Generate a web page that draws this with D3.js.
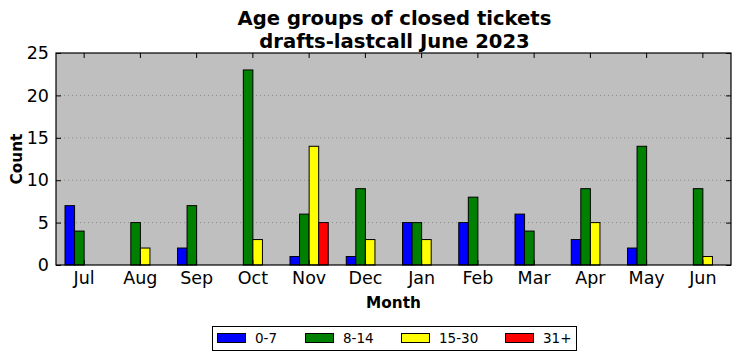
<!DOCTYPE html>
<html>
<head>
<meta charset="utf-8">
<script src="https://cdn.jsdelivr.net/npm/d3@7"></script>
<style>
  body { margin: 0; background: #fff; }
  svg { display: block; font-family: "DejaVu Sans", sans-serif; }
</style>
</head>
<body>
<svg id="chart" width="742" height="361"></svg>
<script>
const months = ["Jul","Aug","Sep","Oct","Nov","Dec","Jan","Feb","Mar","Apr","May","Jun"];
const seriesNames = ["0-7","8-14","15-30","31+"];
const seriesColors = ["#0000ff","#008000","#ffff00","#ff0000"];
const age0to7   = [7,0,2,0,1,1,5,5,6,3,2,0];
const age8to14  = [4,5,7,23,6,9,5,8,4,9,14,9];
const age15to30 = [0,2,0,3,14,3,3,0,0,5,0,1];
const age31plus = [0,0,0,0,5,0,0,0,0,0,0,0];
const yTicks = [0,5,10,15,20,25];
const titleLines = ["Age groups of closed tickets","drafts-lastcall June 2023"];

const seriesValues = [age0to7, age8to14, age15to30, age31plus];

const svg = d3.select("#chart");
const m = {left: 56, right: 11, top: 53, bottom: 96};
const W = 742, H = 361;
const pw = W - m.left - m.right, ph = H - m.top - m.bottom;

const x = d3.scaleBand().domain(months).range([m.left, m.left + pw]).padding(0);
const y = d3.scaleLinear().domain([0, 25]).range([m.top + ph, m.top]);
const barW = x.bandwidth() * 0.17;

// background
svg.append("rect").attr("x", m.left).attr("y", m.top).attr("width", pw).attr("height", ph)
  .attr("fill", "#bfbfbf");

// grid
svg.append("g").selectAll("line").data(yTicks.filter(t => t > 0 && t < 25)).join("line")
  .attr("x1", m.left).attr("x2", m.left + pw)
  .attr("y1", d => y(d)).attr("y2", d => y(d))
  .attr("stroke", "#8a8a8a").attr("stroke-width", 1).attr("stroke-dasharray", "1,3");

// bars
const g = svg.append("g");
seriesValues.forEach((vals, si) => {
  g.append("g").selectAll("rect").data(vals).join("rect")
    .attr("x", (d, i) => x(months[i]) + x.bandwidth() / 2 - 2 * barW + si * barW)
    .attr("y", d => y(d))
    .attr("width", barW)
    .attr("height", d => y(0) - y(d))
    .attr("fill", seriesColors[si])
    .attr("stroke", "#000").attr("stroke-width", 1);
});

// frame
svg.append("rect").attr("x", m.left).attr("y", m.top).attr("width", pw).attr("height", ph)
  .attr("fill", "none").attr("stroke", "#000").attr("stroke-width", 1.2);

// axes
const xAxisB = d3.axisBottom(x).tickSizeInner(-5).tickSizeOuter(0).tickPadding(7);
const xAxisT = d3.axisTop(x).tickSizeInner(-5).tickSizeOuter(0).tickFormat("");
const yAxisL = d3.axisLeft(y).tickValues(yTicks).tickSizeInner(-5).tickSizeOuter(0).tickPadding(7);
const yAxisR = d3.axisRight(y).tickValues(yTicks).tickSizeInner(-5).tickSizeOuter(0).tickFormat("");

function style(sel) {
  sel.select(".domain").remove();
  sel.selectAll("text").attr("font-size", 17.5).attr("fill", "#000").attr("font-family", "DejaVu Sans");
  sel.selectAll("line").attr("stroke", "#000");
}
svg.append("g").attr("transform", `translate(0,${m.top + ph})`).call(xAxisB).call(style);
svg.append("g").attr("transform", `translate(0,${m.top})`).call(xAxisT).call(style);
svg.append("g").attr("transform", `translate(${m.left},0)`).call(yAxisL).call(style);
svg.append("g").attr("transform", `translate(${m.left + pw},0)`).call(yAxisR).call(style);

// title
svg.append("text").attr("x", m.left + pw / 2 + 1).attr("y", 25).attr("text-anchor", "middle")
  .attr("font-size", 19.6).attr("font-weight", "bold").text(titleLines[0]);
svg.append("text").attr("x", m.left + pw / 2 + 1).attr("y", 47.5).attr("text-anchor", "middle")
  .attr("font-size", 19.6).attr("font-weight", "bold").text(titleLines[1]);

// axis labels
svg.append("text").attr("x", m.left + pw / 2).attr("y", 308).attr("text-anchor", "middle")
  .attr("font-size", 15.3).attr("font-weight", "bold").text("Month");
svg.append("text").attr("transform", `translate(22,${m.top + ph / 2}) rotate(-90)`)
  .attr("text-anchor", "middle").attr("font-size", 15.3).attr("font-weight", "bold").text("Count");

// legend
const lg = svg.append("g");
lg.append("rect").attr("x", 212.5).attr("y", 326.5).attr("width", 364).attr("height", 24)
  .attr("fill", "#fff").attr("stroke", "#000").attr("stroke-width", 1);
const legX = [217, 305, 401, 505];
seriesNames.forEach((name, i) => {
  lg.append("rect").attr("x", legX[i] + 0.5).attr("y", 333.5).attr("width", 28).attr("height", 9)
    .attr("fill", seriesColors[i]).attr("stroke", "#000").attr("stroke-width", 1);
  lg.append("text").attr("x", legX[i] + 38).attr("y", 343).attr("font-size", 13.5).text(name);
});
</script>
</body>
</html>
